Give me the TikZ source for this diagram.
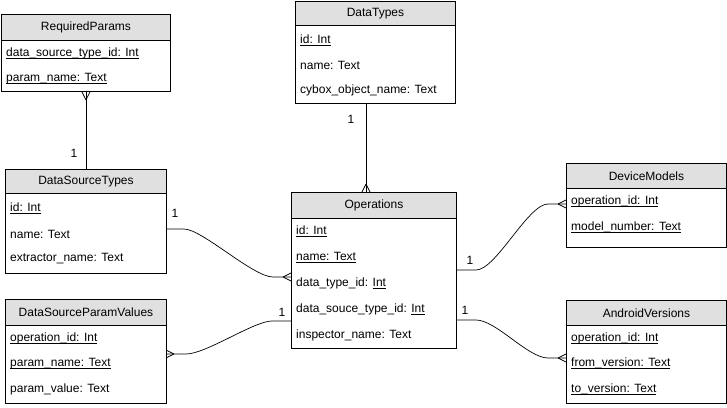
\documentclass[tikz,border=0pt]{standalone}
\usepackage{fontspec}
\setmainfont{Liberation Sans}
\usetikzlibrary{calc}
\definecolor{hdr}{HTML}{E0E0E0}
\newcommand\ul[1]{\setbox0\hbox{#1}\rlap{\rule[-2.2pt]{\wd0}{0.7pt}}\box0}
\tikzset{
  x=1pt, y=-1pt,
  tbox/.style={draw, line width=0.9pt, inner sep=0pt, anchor=north west},
  thead/.style={draw, fill=hdr, line width=0.9pt, inner sep=0pt, anchor=north west, font=\fontsize{12}{14}\selectfont},
  row/.style={anchor=west, inner sep=0pt, font=\fontsize{12}{14}\selectfont},
  lbl/.style={inner sep=0pt, font=\fontsize{12}{14}\selectfont},
  conn/.style={draw, line width=0.7pt},
}
\begin{document}
\begin{tikzpicture}
\useasboundingbox (0,0) rectangle (727,407);
% RequiredParams
\node[tbox, minimum width=169pt, minimum height=77pt] (rp) at (1,14) {};
\node[thead, minimum width=169pt, minimum height=26pt] (rph) at (1,14) {RequiredParams};
\node[row] (rp1) at (6,53) {\ul{data\_source\_type\_id: Int}};
\node[row] (rp2) at (6,79) {\ul{param\_name: Text}};
% DataTypes
\node[tbox, minimum width=160pt, minimum height=102pt] (dt) at (295,1) {};
\node[thead, minimum width=160pt, minimum height=24pt] (dth) at (295,1) {DataTypes};
\node[row] (dt1) at (300,40) {\ul{id: Int}};
\node[row] (dt2) at (300,65) {name: Text};
\node[row] (dt3) at (300,90) {cybox\_object\_name: Text};
% DataSourceTypes
\node[tbox, minimum width=161pt, minimum height=104pt] (dst) at (5,169) {};
\node[thead, minimum width=161pt, minimum height=24pt] (dsth) at (5,169) {DataSourceTypes};
\node[row] (dst1) at (10,208) {\ul{id: Int}};
\node[row] (dst2) at (10,234) {name: Text};
\node[row] (dst3) at (10,259) {extractor\_name: Text};
% Operations
\node[tbox, minimum width=165pt, minimum height=156pt] (op) at (291,192) {};
\node[thead, minimum width=165pt, minimum height=26pt] (oph) at (291,192) {Operations};
\node[row] (op1) at (296,231) {\ul{id: Int}};
\node[row] (op2) at (296,257) {\ul{name: Text}};
\node[row] (op3) at (296,283) {data\_type\_id: \ul{Int}};
\node[row] (op4) at (296,309) {data\_souce\_type\_id: \ul{Int}};
\node[row] (op5) at (296,335) {inspector\_name: Text};
% DataSourceParamValues
\node[tbox, minimum width=161pt, minimum height=104pt] (dspv) at (5,299) {};
\node[thead, minimum width=161pt, minimum height=26pt] (dspvh) at (5,299) {DataSourceParamValues};
\node[row] (dspv1) at (10,338) {\ul{operation\_id: Int}};
\node[row] (dspv2) at (10,364) {\ul{param\_name: Text}};
\node[row] (dspv3) at (10,389) {param\_value: Text};
% DeviceModels
\node[tbox, minimum width=160pt, minimum height=84pt] (dm) at (566,163) {};
\node[thead, minimum width=160pt, minimum height=25pt] (dmh) at (566,163) {DeviceModels};
\node[row] (dm1) at (571,201) {\ul{operation\_id: Int}};
\node[row] (dm2) at (571,227) {\ul{model\_number: Text}};
% AndroidVersions
\node[tbox, minimum width=160pt, minimum height=103pt] (av) at (566,300) {};
\node[thead, minimum width=160pt, minimum height=25pt] (avh) at (566,300) {AndroidVersions};
\node[row] (av1) at (571,338) {\ul{operation\_id: Int}};
\node[row] (av2) at (571,363) {\ul{from\_version: Text}};
\node[row] (av3) at (571,389) {\ul{to\_version: Text}};
% connector end points
\coordinate (e2a) at (366,103);
\coordinate (e2b) at (366,192);
\coordinate (e3a) at (166,229);
\coordinate (e3b) at (291,277);
\coordinate (e4a) at (291,321);
\coordinate (e4b) at (166,354);
\coordinate (e5a) at (456,270);
\coordinate (e5b) at (566,204);
\coordinate (e6a) at (456,320);
\coordinate (e6b) at (566,358);
% connectors
\draw[conn] (dst.north) -- (rp.south);
\draw[conn] ($(rp.south)+(0,8)$) -- ($(rp.south)+(-4,0)$) ($(rp.south)+(0,8)$) -- ($(rp.south)+(4,0)$);
\draw[conn] (e2a) -- (e2b);
\draw[conn] ($(e2b)+(0,-8)$) -- ($(e2b)+(-4,0)$) ($(e2b)+(0,-8)$) -- ($(e2b)+(4,0)$);
\draw[conn] (e3a) -- ++(18,0) .. controls (202,229) and (253,277) .. (273,277) -- (e3b);
\draw[conn] ($(e3b)+(-8,0)$) -- ($(e3b)+(0,-4)$) ($(e3b)+(-8,0)$) -- ($(e3b)+(0,4)$);
\draw[conn] (e4a) -- ++(-19,0) .. controls (254,321) and (206,354) .. (186,354) -- (e4b);
\draw[conn] ($(e4b)+(8,0)$) -- ($(e4b)+(0,-4)$) ($(e4b)+(8,0)$) -- ($(e4b)+(0,4)$);
\draw[conn] (e5a) -- ++(20,0) .. controls (496,270) and (528,204) .. (548,204) -- (e5b);
\draw[conn] ($(e5b)+(-8,0)$) -- ($(e5b)+(0,-4)$) ($(e5b)+(-8,0)$) -- ($(e5b)+(0,4)$);
\draw[conn] (e6a) -- ++(20,0) .. controls (496,320) and (528,358) .. (548,358) -- (e6b);
\draw[conn] ($(e6b)+(-8,0)$) -- ($(e6b)+(0,-4)$) ($(e6b)+(-8,0)$) -- ($(e6b)+(0,4)$);
% labels
\node[lbl] (l1) at (74,153) {1};
\node[lbl] (l2) at (351,119) {1};
\node[lbl] (l3) at (175,213) {1};
\node[lbl] (l4) at (282,312) {1};
\node[lbl] (l5) at (470,260) {1};
\node[lbl] (l6) at (465,310) {1};
\end{tikzpicture}
\end{document}
